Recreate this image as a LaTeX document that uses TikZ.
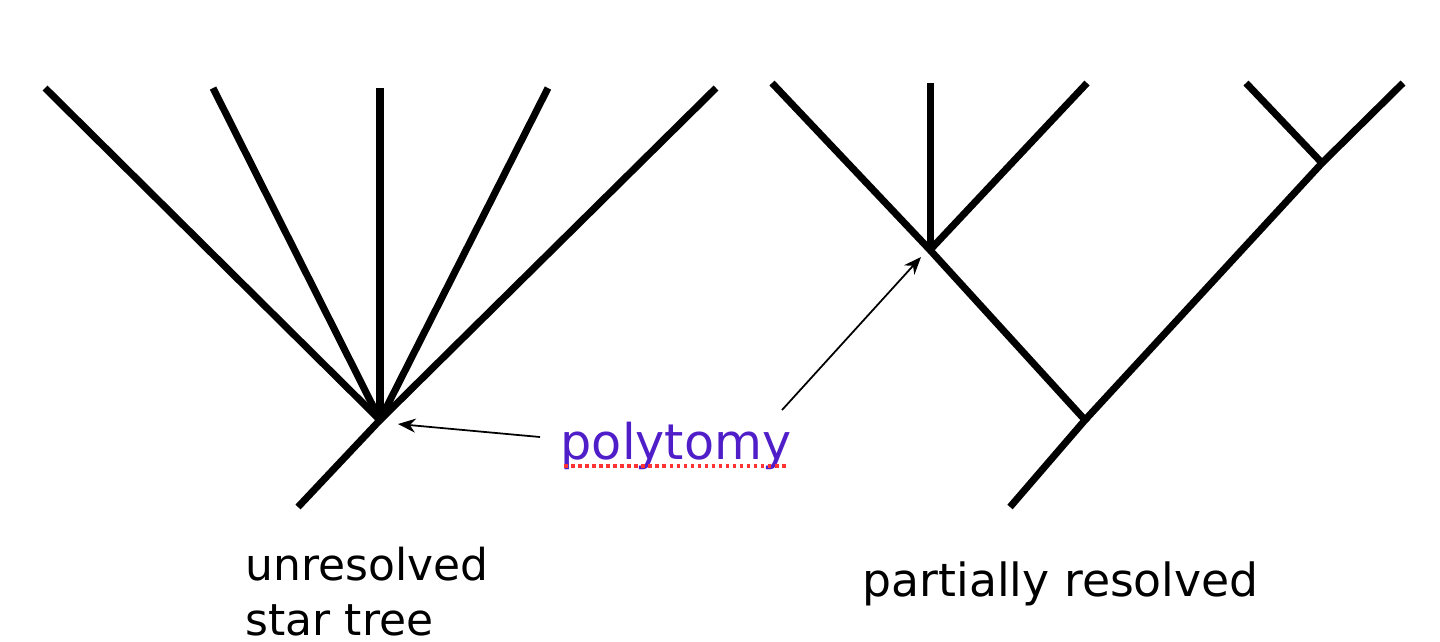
\documentclass[tikz,border=0pt]{standalone}
\usepackage{fontspec}
\setmainfont{DejaVu Sans}
\usetikzlibrary{arrows.meta}
\definecolor{polyblue}{RGB}{80,30,200}
\begin{document}
\begin{tikzpicture}[x=0.01cm,y=-0.01cm,
  branch/.style={line width=2pt,line cap=butt},
  pointer/.style={line width=0.5pt,-{Stealth[length=5pt,width=4pt]}},
  lbl/.style={font=\fontsize{12.5}{15}\selectfont,inner sep=0pt,anchor=base west}]
\useasboundingbox (0,0) rectangle (1440,641);
\clip (0,0) rectangle (1440,641);
% left star tree
\coordinate (c) at (380,420);
\coordinate (l1) at (45,88);
\coordinate (l2) at (213,88);
\coordinate (l3) at (380,88);
\coordinate (l4) at (548,88);
\coordinate (l5) at (716,88);
\coordinate (r0) at (298,507);
\foreach \l in {l1,l2,l3,l4,l5} \draw[branch] (c) -- (\l);
\draw[branch] (c) -- (r0);
% right tree
\coordinate (p) at (930,250);
\coordinate (q) at (1085,420);
\coordinate (s) at (1322,163);
\coordinate (m1) at (772,83);
\coordinate (m2) at (930,83);
\coordinate (m3) at (1087,83);
\coordinate (m4) at (1246,83);
\coordinate (m5) at (1403,83);
\coordinate (r1) at (1010,507);
\draw[branch] (m1) -- (p) -- (q) -- (r1);
\draw[branch] (p) -- (m2);
\draw[branch] (p) -- (m3);
\draw[branch] (q) -- (s) -- (m5);
\draw[branch] (s) -- (m4);
% label
\node[lbl,text=polyblue,font=\fontsize{14}{17}\selectfont] (poly) at (560,459) {polytomy};
\draw[red!80,densely dotted,line width=1pt] (564,466) -- (788,466);
\coordinate (a1) at (540,437);
\coordinate (a2) at (782,410);
\draw[pointer] (a1) -- (398,424);
\draw[pointer] (a2) -- (921,257);
\node[lbl] (u) at (245,580) {unresolved};
\node[lbl] (st) at (245,635) {star tree};
\node[lbl,font=\fontsize{13}{16}\selectfont] (pr) at (862,596) {partially resolved};
\end{tikzpicture}
\end{document}
